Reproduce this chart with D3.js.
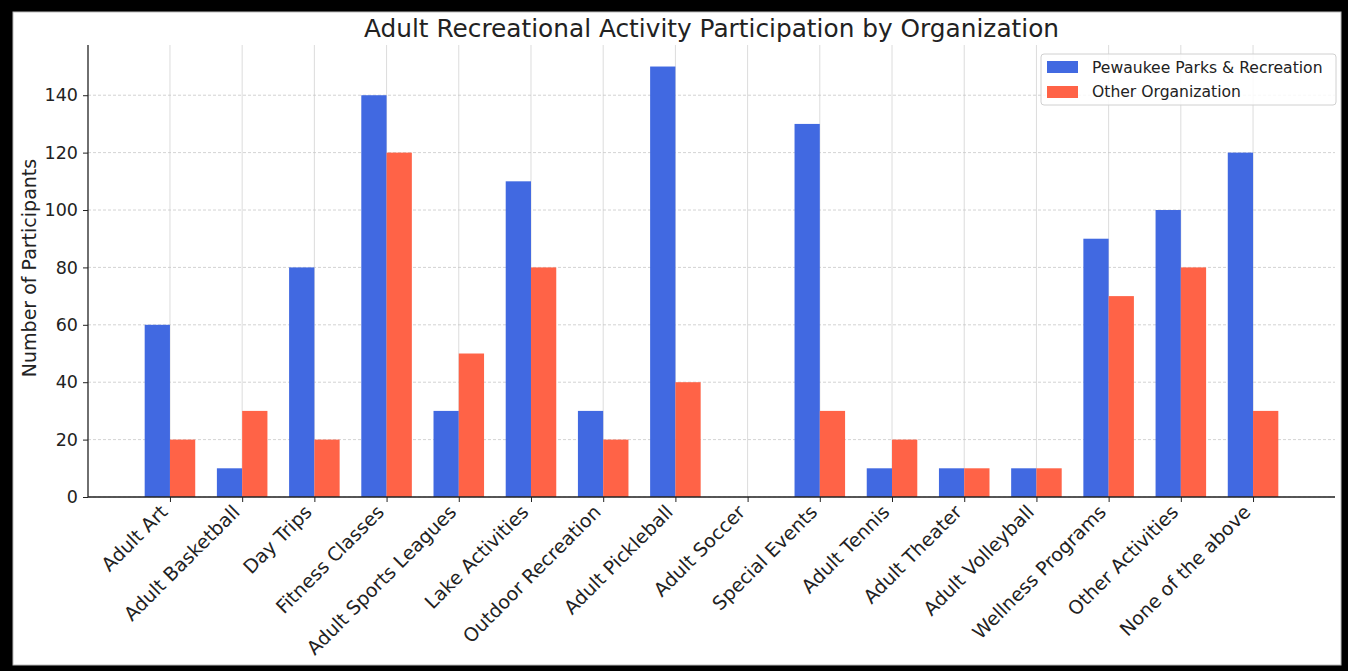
<!DOCTYPE html>
<html><head><meta charset="utf-8">
<script src="https://cdn.jsdelivr.net/npm/d3@7"></script>
<style>body{margin:0;background:#000;} svg{display:block;font-family:"DejaVu Sans",sans-serif;}</style>
</head><body>
<svg id="c" width="1348" height="671"></svg>
<script>
const categories = ["Adult Art","Adult Basketball","Day Trips","Fitness Classes","Adult Sports Leagues","Lake Activities","Outdoor Recreation","Adult Pickleball","Adult Soccer","Special Events","Adult Tennis","Adult Theater","Adult Volleyball","Wellness Programs","Other Activities","None of the above"];
const pewaukee = [60,10,80,140,30,110,30,150,0,130,10,10,10,90,100,120];
const other = [20,30,20,120,50,80,20,40,0,30,20,10,10,70,80,30];
const seriesNames = ["Pewaukee Parks & Recreation","Other Organization"];
const yTicks = [0,20,40,60,80,100,120,140];

const svg = d3.select("#c");
svg.append("rect").attr("width",1348).attr("height",671).attr("fill","#000");
svg.append("rect").attr("x",13).attr("y",12).attr("width",1328).attr("height",653).attr("fill","#fff").attr("stroke","#bbb").attr("stroke-width",1);

const L=88, R=1335, T=45, B=497;
const n = categories.length, w = 0.35;
const x = d3.scaleLinear().domain([-w - 0.05*(n-1+2*w), n-1+w + 0.05*(n-1+2*w)]).range([L,R]);
const y = d3.scaleLinear().domain([0, 150*1.05]).range([B,T]);

// grid
const g = svg.append("g");
g.selectAll(".vg").data(categories).join("line")
  .attr("x1",(d,i)=>x(i)).attr("x2",(d,i)=>x(i)).attr("y1",T).attr("y2",B)
  .attr("stroke","#dcdcdc").attr("stroke-width",1);
g.selectAll(".hg").data(yTicks).join("line")
  .attr("x1",L).attr("x2",R).attr("y1",d=>y(d)).attr("y2",d=>y(d))
  .attr("stroke","#c8c8c8").attr("stroke-width",0.8).attr("stroke-dasharray","3,2");

// bars
const barW = x(w)-x(0);
svg.append("g").selectAll("rect").data(pewaukee).join("rect")
  .attr("x",(d,i)=>x(i-w)).attr("width",barW)
  .attr("y",d=>y(d)).attr("height",d=>y(0)-y(d)).attr("fill","#4169E1");
svg.append("g").selectAll("rect").data(other).join("rect")
  .attr("x",(d,i)=>x(i)).attr("width",barW)
  .attr("y",d=>y(d)).attr("height",d=>y(0)-y(d)).attr("fill","#FF6347");

// axes
const yAxis = d3.axisLeft(y).tickValues(yTicks).tickSize(5).tickPadding(5);
const ya = svg.append("g").attr("transform",`translate(${L},0)`).call(yAxis);
ya.select(".domain").attr("d",`M0,${T}V${B}`).attr("stroke","#222").attr("stroke-width",1.3);
ya.selectAll("text").attr("font-size",17.5).attr("fill","#222").attr("font-family","DejaVu Sans");
ya.selectAll(".tick line").attr("stroke","#222");

const xAxis = d3.axisBottom(x).tickValues(d3.range(n)).tickFormat(i=>categories[i]).tickSize(5).tickPadding(3);
const xa = svg.append("g").attr("transform",`translate(0,${B})`).call(xAxis);
xa.select(".domain").attr("d",`M${L},0H${R}`).attr("stroke","#222").attr("stroke-width",1.3);
xa.selectAll(".tick line").attr("stroke","#222");
xa.selectAll("text").attr("font-size",19).attr("fill","#222").attr("font-family","DejaVu Sans")
  .attr("text-anchor","end").attr("dy","0.76em")
  .attr("transform","translate(-12,6) rotate(-45)").attr("x",0).attr("y",0);

// title & label
svg.append("text").attr("x",(L+R)/2).attr("y",37).attr("text-anchor","middle")
  .attr("font-size",24.8).attr("fill","#222").text("Adult Recreational Activity Participation by Organization");
svg.append("text").attr("transform",`translate(36,268) rotate(-90)`).attr("text-anchor","middle")
  .attr("font-size",19).attr("fill","#222").text("Number of Participants");

// legend
const lg = svg.append("g").attr("transform","translate(1041,54)");
lg.append("rect").attr("width",295).attr("height",51).attr("rx",3).attr("fill","#fff").attr("fill-opacity",0.85).attr("stroke","#d0d0d0");
const colors = ["#4169E1","#FF6347"];
seriesNames.forEach((s,i)=>{
  lg.append("rect").attr("x",6).attr("y",7+i*25).attr("width",31).attr("height",12).attr("fill",colors[i]);
  lg.append("text").attr("x",51).attr("y",19+i*24).attr("font-size",15.6).attr("fill","#222").text(s);
});
</script>
</body></html>
